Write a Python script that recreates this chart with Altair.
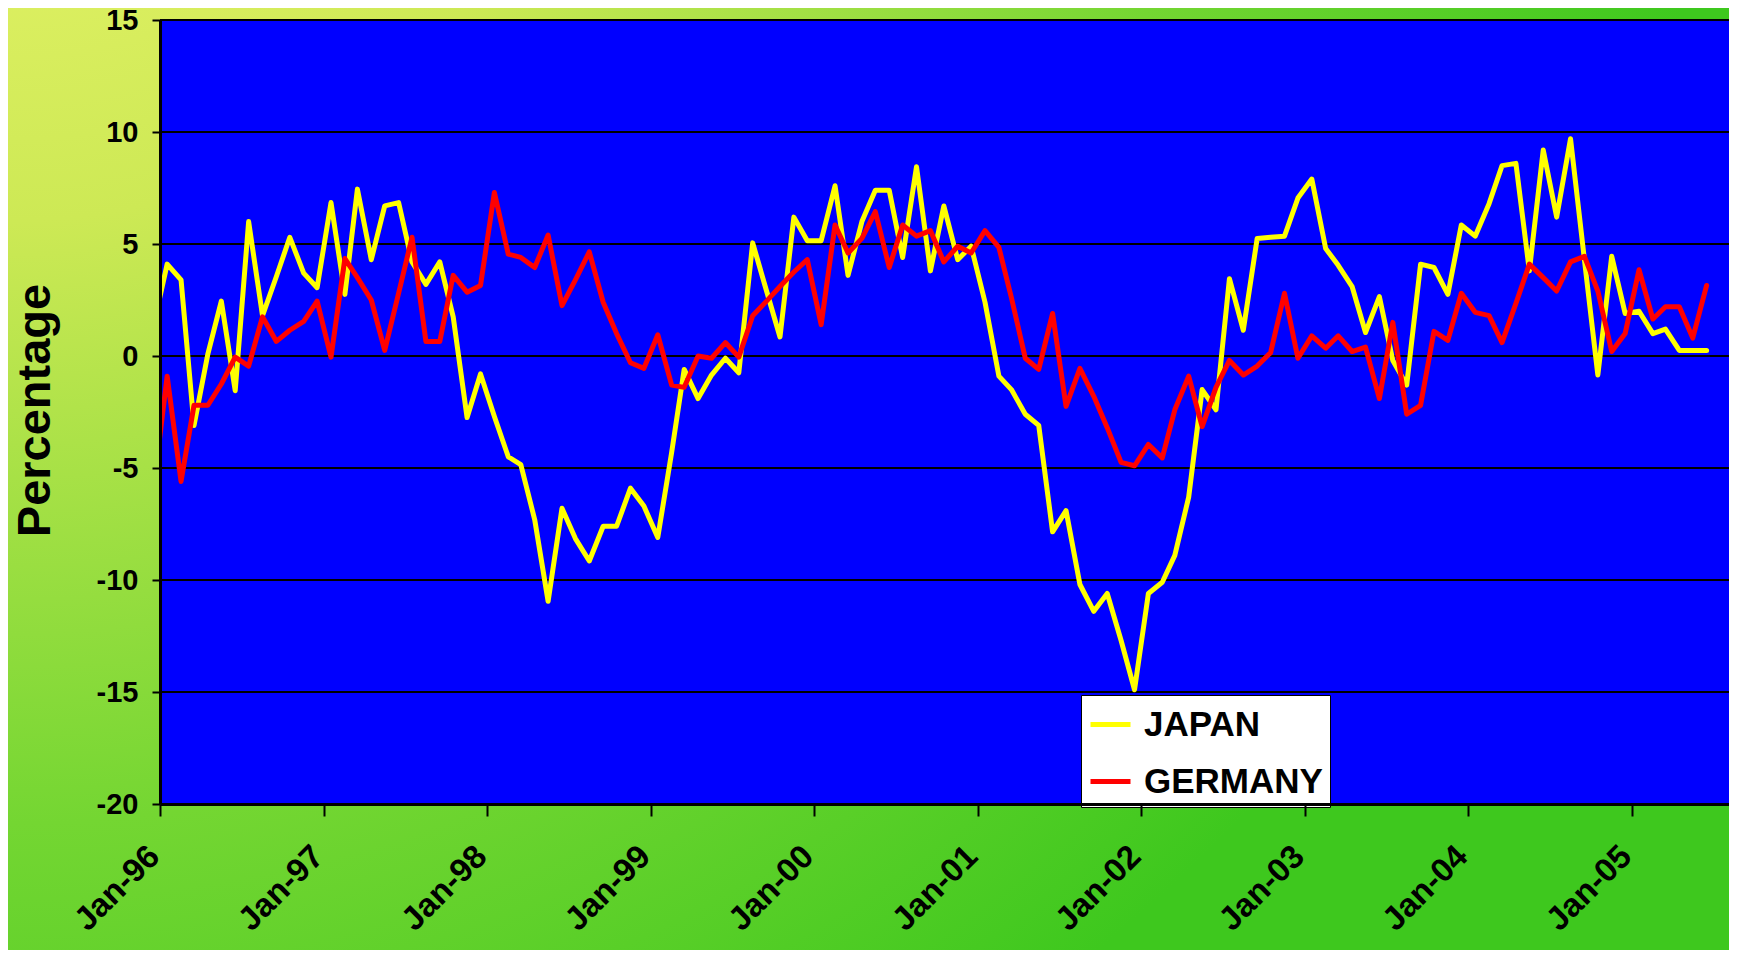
import altair as alt
import pandas as pd

# ---- data ----
months = []
yy, mm = 1995, 12
while (yy, mm) <= (2005, 6):
    months.append(f"{yy}-{mm:02d}")
    mm += 1
    if mm > 12:
        mm = 1
        yy += 1

japan = [1.3, 4.1, 3.4, -3.1, 0.1, 2.45, -1.55, 6.0, 1.8, 3.55, 5.3, 3.7, 3.05,
         6.85, 2.75, 7.45, 4.3, 6.7, 6.85, 4.2, 3.2, 4.2, 1.75, -2.75, -0.8,
         -2.7, -4.5, -4.85, -7.3, -10.95, -6.8, -8.15, -9.15, -7.6, -7.6, -5.9, -6.7,
         -8.1, -4.3, -0.6, -1.9, -0.85, -0.1, -0.75, 5.05, 2.9, 0.85, 6.2, 5.15,
         5.15, 7.6, 3.6, 6.0, 7.4, 7.4, 4.4, 8.45, 3.8, 6.7, 4.3, 4.9,
         2.4, -0.9, -1.5, -2.6, -3.1, -7.85, -6.9, -10.2, -11.4, -10.6, -12.7, -14.9,
         -10.6, -10.1, -8.9, -6.3, -1.5, -2.4, 3.45, 1.15, 5.25, 5.3, 5.35, 7.05,
         7.9, 4.8, 4.05, 3.1, 1.05, 2.65, -0.2, -1.3, 4.1, 3.95, 2.75, 5.85,
         5.35, 6.8, 8.5, 8.6, 3.8, 9.2, 6.2, 9.7, 4.3, -0.85, 4.45, 1.9,
         2.0, 1.0, 1.2, 0.25, 0.25, 0.25]

germany = [-6.0, -0.9, -5.6, -2.2, -2.2, -1.25, -0.05, -0.45, 1.75, 0.65, 1.15, 1.55, 2.45,
           -0.05, 4.35, 3.5, 2.5, 0.25, 2.8, 5.3, 0.65, 0.65, 3.6, 2.85, 3.15,
           7.3, 4.55, 4.4, 3.95, 5.4, 2.25, 3.4, 4.65, 2.4, 1.0, -0.3, -0.55,
           0.95, -1.3, -1.4, 0.0, -0.1, 0.6, -0.05, 1.8, 2.45, 3.1, 3.75, 4.3,
           1.4, 5.85, 4.6, 5.25, 6.45, 3.95, 5.85, 5.35, 5.6, 4.2, 4.9, 4.6,
           5.6, 4.85, 2.6, -0.1, -0.6, 1.9, -2.25, -0.55, -1.8, -3.2, -4.75, -4.9,
           -3.95, -4.55, -2.4, -0.9, -3.15, -1.4, -0.2, -0.85, -0.45, 0.15, 2.8, -0.1,
           0.9, 0.35, 0.9, 0.2, 0.4, -1.9, 1.5, -2.6, -2.2, 1.1, 0.7, 2.8,
           1.95, 1.8, 0.6, 2.35, 4.1, 3.5, 2.9, 4.2, 4.45, 2.9, 0.2, 1.0,
           3.85, 1.65, 2.2, 2.2, 0.8, 3.15]

series_names = ["JAPAN", "GERMANY"]
series_colors = ["#FFFF00", "#FF0000"]
y_ticks = [-20, -15, -10, -5, 0, 5, 10, 15]
grid_values = [-15, -10, -5, 0, 5, 10, 15]
year_ticks = list(range(1996, 2006))

rows = []
for name, vals in zip(series_names, [japan, germany]):
    for mo, v in zip(months, vals):
        rows.append({"series": name, "date": f"{mo}-17", "value": v})
df = pd.DataFrame(rows)
grid_df = pd.DataFrame({"value": grid_values})

# ---- layout ----
W, H = 1569, 784
PAD = {"left": 152, "top": 12, "right": 0, "bottom": 146}
FONT = "Liberation Sans"

yscale = alt.Scale(domain=[-20, 15], nice=False, zero=False)
xscale = alt.Scale(
    type="utc",
    domain=[alt.DateTime(year=1996, month=1, date=1, utc=True),
            alt.DateTime(year=2005, month=8, date=6, utc=True)],
    nice=False,
)

yaxis = alt.Axis(
    values=y_ticks, grid=False, title="Percentage",
    labelExpr="'' + datum.value",
    labelFont=FONT, labelFontSize=29, labelFontWeight="bold", labelColor="black",
    labelPadding=14, tickSize=8, tickWidth=2, tickColor="black",
    domainColor="black", domainWidth=3,
    titleFont=FONT, titleFontSize=47, titleFontWeight="bold", titleColor="black",
    titleAngle=270, titleAlign="center", titleBaseline="alphabetic",
    titleX=-111, titleY=390, zindex=1,
)
xaxis = alt.Axis(
    values=[alt.DateTime(year=yr, month=1, date=1, utc=True) for yr in year_ticks],
    labelExpr="utcFormat(datum.value, '%b-%y')",
    grid=False, title=None,
    labelFont=FONT, labelFontSize=33, labelFontWeight="bold", labelColor="black",
    labelAngle=-45, labelAlign="right", labelBaseline="middle",
    labelPadding=35, labelOffset=-6, labelOverlap=False, labelFlush=False,
    tickSize=12, tickWidth=2, tickColor="black",
    domainColor="black", domainWidth=3, zindex=1,
)

gradient = alt.RadialGradient(
    gradient="radial",
    stops=[
        alt.GradientStop(offset=0.0, color="#F2F872"),
        alt.GradientStop(offset=0.35, color="#CDE955"),
        alt.GradientStop(offset=0.7, color="#74D632"),
        alt.GradientStop(offset=1.0, color="#3EC81E"),
    ],
    x1=0, y1=0, r1=0, x2=0, y2=0, r2=1,
)

one = alt.Data(values=[{"k": 1}])

bg = alt.Chart(one).mark_rect(color=gradient, clip=False).encode(
    x=alt.value(-PAD["left"]), x2=alt.value(W + PAD["right"]),
    y=alt.value(-PAD["top"]), y2=alt.value(H + PAD["bottom"]),
)
plot_bg = alt.Chart(one).mark_rect(color="#0000FF").encode(
    x=alt.value(0), x2=alt.value(W), y=alt.value(0), y2=alt.value(H),
)
grid = alt.Chart(grid_df).mark_rule(color="black", strokeWidth=2).encode(
    y=alt.Y("value:Q", scale=yscale, axis=yaxis),
)
lines = alt.Chart(df).mark_line(
    strokeWidth=5, strokeJoin="round", strokeCap="round", clip=True
).encode(
    x=alt.X("date:T", scale=xscale, axis=xaxis),
    y=alt.Y("value:Q", scale=yscale, axis=yaxis),
    color=alt.Color(
        "series:N",
        scale=alt.Scale(domain=series_names, range=series_colors),
        legend=alt.Legend(
            title=None, orient="none", legendX=921, legendY=675,
            direction="vertical", fillColor="white", strokeColor="black",
            padding=7, symbolType="stroke", symbolSize=1600, symbolStrokeWidth=5,
            labelFont=FONT, labelFontSize=35, labelFontWeight="bold",
            labelColor="black", labelOffset=11, rowPadding=16, labelLimit=0,
        ),
    ),
    order=alt.Order("date:T"),
)

chart = alt.layer(bg, plot_bg, grid, lines).properties(
    width=W, height=H,
    autosize=alt.AutoSizeParams(type="none"),
    padding=PAD,
    background="#44CC22",
).configure_view(stroke=None)

chart.save("out.html", embed_options={"renderer": "svg", "actions": False})
